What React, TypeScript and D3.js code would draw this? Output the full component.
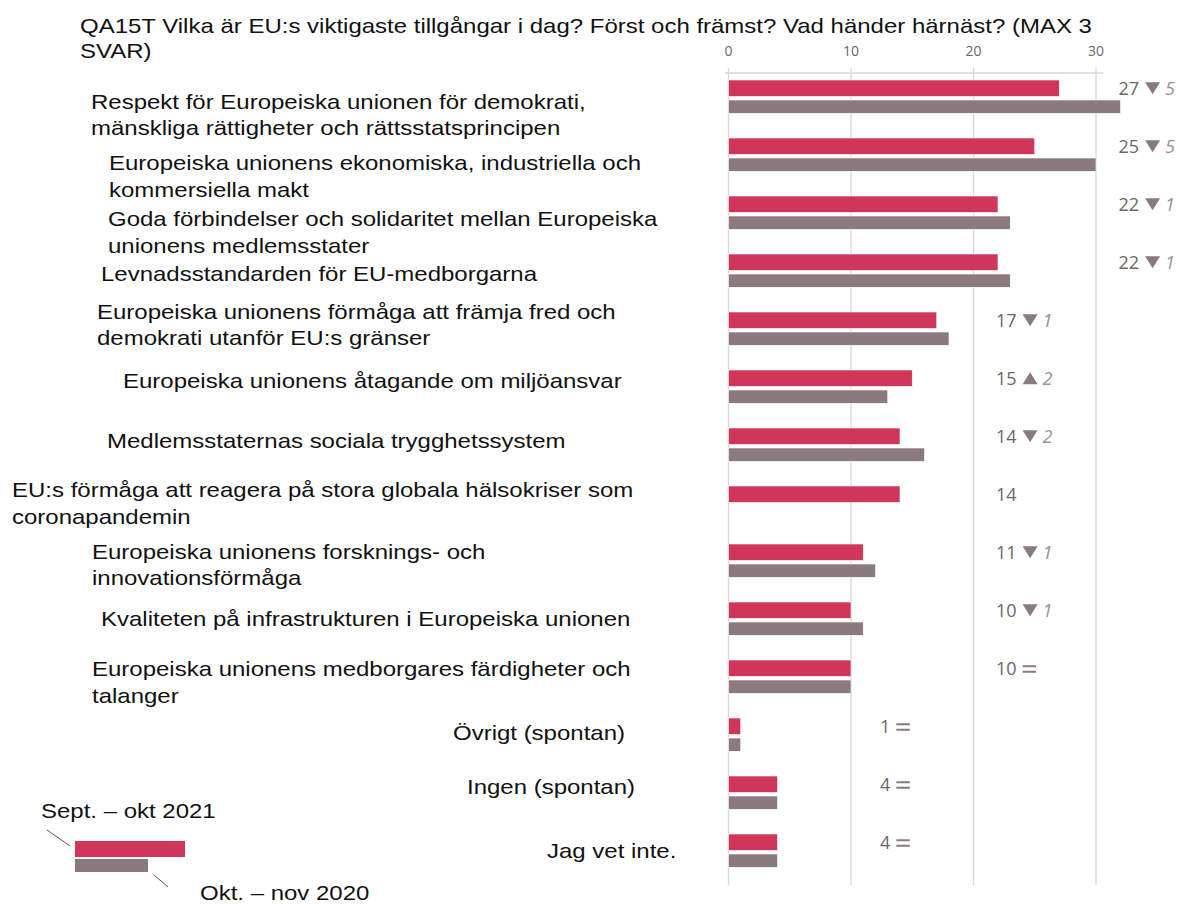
import * as d3 from 'd3';

const categories = [
  'Respekt för Europeiska unionen för demokrati,\nmänskliga rättigheter och rättsstatsprincipen',
  'Europeiska unionens ekonomiska, industriella och\nkommersiella makt',
  'Goda förbindelser och solidaritet mellan Europeiska\nunionens medlemsstater',
  'Levnadsstandarden för EU-medborgarna',
  'Europeiska unionens förmåga att främja fred och\ndemokrati utanför EU:s gränser',
  'Europeiska unionens åtagande om miljöansvar',
  'Medlemsstaternas sociala trygghetssystem',
  'EU:s förmåga att reagera på stora globala hälsokriser som\ncoronapandemin',
  'Europeiska unionens forsknings- och\ninnovationsförmåga',
  'Kvaliteten på infrastrukturen i Europeiska unionen',
  'Europeiska unionens medborgares färdigheter och\ntalanger',
  'Övrigt (spontan)',
  'Ingen (spontan)',
  'Jag vet inte.',
];

const sept2021 = [27, 25, 22, 22, 17, 15, 14, 14, 11, 10, 10, 1, 4, 4];
const okt2020 = [32, 30, 23, 23, 18, 13, 16, null, 12, 11, 10, 1, 4, 4];

const seriesNames = ['Sept. – okt 2021', 'Okt. – nov 2020'];
const xTicks = [0, 10, 20, 30];

const titleLines = [
  'QA15T Vilka är EU:s viktigaste tillgångar i dag? Först och främst? Vad händer härnäst? (MAX 3',
  'SVAR)',
];

// where each category text box sits (x, baseline offset from the band top)
const labelLayout = [
  { x: 91, dy: 28.5 },
  { x: 109, dy: 32 },
  { x: 108, dy: 30 },
  { x: 101, dy: 27 },
  { x: 97, dy: 6.5 },
  { x: 123, dy: 18 },
  { x: 107, dy: 20 },
  { x: 12, dy: 11 },
  { x: 92, dy: 14.5 },
  { x: 101, dy: 23.5 },
  { x: 92, dy: 16 },
  { x: 453, dy: 21.5 },
  { x: 467, dy: 18 },
  { x: 547, dy: 23.5 },
];

const RED = '#cf365a';
const GREY = '#8a7a7d';
const TXT = '#6e6567';
const GRID = '#ddd5d2';
const SANS = '"Liberation Sans", Arial, sans-serif';
const NUMF = '"Open Sans", "Noto Sans", sans-serif';
const STRETCH = 1.2;

function WideText({ x, y, lines, gap = 27 }: { x: number; y: number; lines: string[]; gap?: number }) {
  return (
    <text transform={`translate(${x},${y}) scale(${STRETCH},1)`}>
      {lines.map((l, j) => (
        <tspan key={j} x={0} y={j * gap}>{l}</tspan>
      ))}
    </text>
  );
}

export default function App() {
  const width = 1178;
  const height = 905;
  const axisY = 73;
  const gridBottom = 885;

  const x = d3.scaleLinear().domain([0, 30]).range([728.5, 1096]);
  const y = d3.scaleBand<string>()
    .domain(categories)
    .range([80, 80 + 58 * categories.length])
    .padding(0);

  const redH = 16.5;
  const greyOff = 20;
  const greyH = 13.3;
  const digitW = 10.3;

  return (
    <svg width={width} height={height} style={{ position: 'absolute', left: 0, top: 0, background: '#fff' }}>
      {/* title */}
      <g fontFamily={SANS} fontSize={20} fill="#111">
        <WideText x={80} y={33} lines={titleLines} gap={25.5} />
      </g>

      {/* grid */}
      <g>
        {xTicks.map((t) => (
          <line key={t} x1={x(t)} x2={x(t)} y1={axisY - 5} y2={gridBottom} stroke={GRID} strokeWidth={1.3} />
        ))}
        <line x1={725} x2={1103} y1={axisY} y2={axisY} stroke={GRID} strokeWidth={1.3} />
        {xTicks.map((t) => (
          <text key={t} x={x(t)} y={56} textAnchor="middle" fontFamily={NUMF} fontSize={14} fill={TXT}>{t}</text>
        ))}
      </g>

      {/* bars */}
      <g>
        {categories.map((c, i) => {
          const y0 = y(c) as number;
          const prev = okt2020[i];
          return (
            <g key={c}>
              <rect x={x(0)} y={y0} width={x(sept2021[i]) - x(0)} height={redH} fill={RED} stroke="#fff" strokeWidth={0.6} />
              {prev !== null && (
                <rect x={x(0)} y={y0 + greyOff} width={x(prev) - x(0)} height={greyH} fill={GREY} stroke="#fff" strokeWidth={0.6} />
              )}
            </g>
          );
        })}
      </g>

      {/* value labels with change vs previous wave */}
      <g fontFamily={NUMF} fontSize={18}>
        {categories.map((c, i) => {
          const cur = sept2021[i];
          const prev = okt2020[i];
          const mx = Math.max(cur, prev ?? 0);
          const col = Math.min(30, Math.floor(mx / 10) * 10 + 10);
          const lx = x(col) + (col === 10 ? 29 : 22.5);
          const base = (y(c) as number) + redH / 2 + 6.5;
          const numStr = String(cur);
          const after = lx + numStr.length * digitW + 6;
          let mark = null;
          if (prev !== null) {
            const diff = cur - prev;
            if (diff === 0) {
              mark = (
                <g fill={GREY}>
                  <rect x={after} y={base - 9.5} width={13.5} height={2} />
                  <rect x={after} y={base - 4} width={13.5} height={2} />
                </g>
              );
            } else {
              const top = base - 12.5;
              const path = diff < 0
                ? `M${after},${top} L${after + 15},${top} L${after + 7.5},${top + 12} Z`
                : `M${after},${top + 12} L${after + 15},${top + 12} L${after + 7.5},${top} Z`;
              mark = (
                <g>
                  <path d={path} fill={GREY} />
                  <text x={after + 20} y={base} fill="#9a9092" fontStyle="italic">{Math.abs(diff)}</text>
                </g>
              );
            }
          }
          return (
            <g key={c}>
              <text x={lx} y={base} fill={TXT}>{numStr}</text>
              {mark}
            </g>
          );
        })}
      </g>

      {/* category labels */}
      <g fontFamily={SANS} fontSize={20} fill="#111">
        {categories.map((c, i) => {
          const lay = labelLayout[i];
          return <WideText key={c} x={lay.x} y={(y(c) as number) + lay.dy} lines={c.split('\n')} />;
        })}
      </g>

      {/* legend */}
      <g fontFamily={SANS} fontSize={20} fill="#111">
        <WideText x={41} y={818} lines={[seriesNames[0]]} />
        <line x1={47} y1={830} x2={70} y2={846} stroke="#555" strokeWidth={1} />
        <rect x={75} y={841} width={110} height={16} fill={RED} />
        <rect x={75} y={859} width={73} height={13} fill={GREY} />
        <line x1={154} y1={875} x2={168} y2={887} stroke="#555" strokeWidth={1} />
        <WideText x={200} y={900} lines={[seriesNames[1]]} />
      </g>
    </svg>
  );
}
